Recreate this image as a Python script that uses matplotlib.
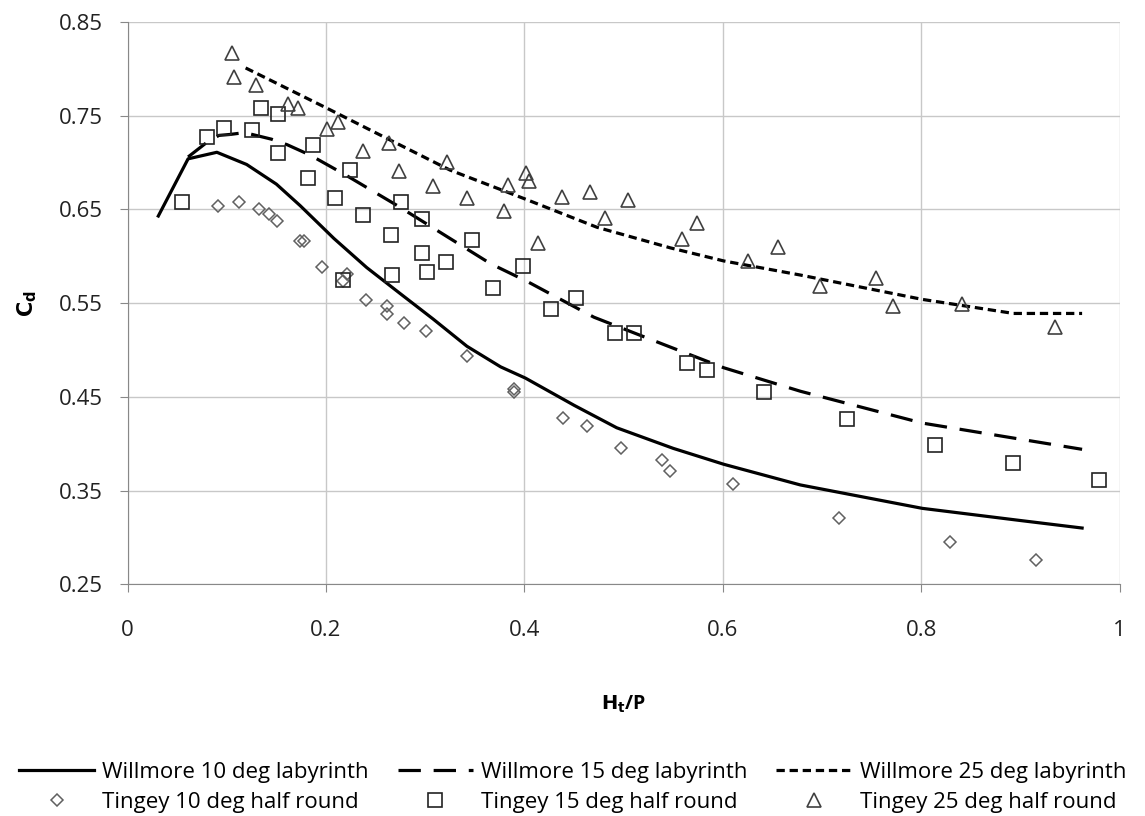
import matplotlib
from matplotlib import pyplot as plt

matplotlib.use("Agg")

plt.rcParams["font.family"] = ["Open Sans", "DejaVu Sans"]

# Willmore labyrinth curves
w10_x = [0.031, 0.061, 0.090, 0.120, 0.150, 0.174, 0.208, 0.241, 0.275, 0.308,
         0.342, 0.376, 0.401, 0.450, 0.493, 0.550, 0.601, 0.678, 0.801, 0.900,
         0.962]
w10_y = [0.643, 0.704, 0.711, 0.698, 0.677, 0.654, 0.619, 0.588, 0.560, 0.533,
         0.504, 0.482, 0.470, 0.441, 0.417, 0.395, 0.378, 0.356, 0.331, 0.318,
         0.310]

w15_x = [0.061, 0.078, 0.092, 0.103, 0.118, 0.145, 0.161, 0.184, 0.221, 0.272,
         0.325, 0.366, 0.403, 0.470, 0.540, 0.601, 0.678, 0.801, 0.962]
w15_y = [0.706, 0.720, 0.729, 0.730, 0.732, 0.725, 0.719, 0.708, 0.686, 0.654,
         0.619, 0.592, 0.573, 0.535, 0.506, 0.481, 0.456, 0.422, 0.394]

w25_x = [0.119, 0.201, 0.261, 0.325, 0.401, 0.473, 0.547, 0.601, 0.678, 0.801,
         0.893, 0.962]
w25_y = [0.801, 0.758, 0.726, 0.692, 0.661, 0.631, 0.609, 0.595, 0.580, 0.554,
         0.539, 0.539]

# Tingey half round measurements
t10_x = [0.091, 0.112, 0.132, 0.143, 0.151, 0.174, 0.178, 0.196, 0.221, 0.217,
         0.240, 0.261, 0.261, 0.279, 0.301, 0.342, 0.389, 0.389, 0.439, 0.463,
         0.497, 0.539, 0.547, 0.610, 0.717, 0.829, 0.916]
t10_y = [0.654, 0.658, 0.651, 0.645, 0.638, 0.616, 0.616, 0.589, 0.581, 0.574,
         0.553, 0.547, 0.538, 0.529, 0.520, 0.494, 0.458, 0.455, 0.427, 0.419,
         0.395, 0.383, 0.371, 0.357, 0.321, 0.295, 0.276]

t15_x = [0.055, 0.080, 0.097, 0.125, 0.134, 0.152, 0.152, 0.187, 0.182, 0.224,
         0.209, 0.276, 0.237, 0.297, 0.266, 0.297, 0.321, 0.302, 0.267, 0.217,
         0.347, 0.368, 0.399, 0.427, 0.452, 0.491, 0.510, 0.564, 0.584, 0.641,
         0.725, 0.814, 0.892, 0.979]
t15_y = [0.658, 0.727, 0.737, 0.735, 0.758, 0.752, 0.710, 0.719, 0.684, 0.692,
         0.662, 0.658, 0.644, 0.640, 0.623, 0.604, 0.594, 0.583, 0.580, 0.575,
         0.617, 0.566, 0.590, 0.544, 0.555, 0.518, 0.518, 0.486, 0.479, 0.455,
         0.426, 0.399, 0.379, 0.361]

t25_x = [0.105, 0.107, 0.129, 0.162, 0.172, 0.201, 0.212, 0.237, 0.263, 0.274,
         0.308, 0.322, 0.342, 0.379, 0.383, 0.402, 0.405, 0.414, 0.438, 0.466,
         0.481, 0.504, 0.559, 0.574, 0.625, 0.656, 0.698, 0.754, 0.771, 0.841,
         0.935]
t25_y = [0.817, 0.791, 0.783, 0.762, 0.758, 0.736, 0.743, 0.712, 0.721, 0.691,
         0.675, 0.701, 0.662, 0.648, 0.676, 0.689, 0.680, 0.614, 0.663, 0.669,
         0.641, 0.660, 0.618, 0.636, 0.595, 0.610, 0.568, 0.577, 0.547, 0.549,
         0.525]

fig = plt.figure(figsize=(11.45, 8.16), dpi=100)
ax = fig.add_axes([0.1114, 0.284, 0.8666, 0.689])

lw = 2.3
l10, = ax.plot(w10_x, w10_y, color="black", lw=lw,
               label="Willmore 10 deg labyrinth")
l15, = ax.plot(w15_x, w15_y, color="black", lw=lw, dashes=(7, 4),
               label="Willmore 15 deg labyrinth")
l25, = ax.plot(w25_x, w25_y, color="black", lw=lw, dashes=(2.6, 1.5),
               label="Willmore 25 deg labyrinth")

s10, = ax.plot(t10_x, t10_y, ls="none", marker="D", ms=6.5, mfc="none",
               mec="#606060", mew=1.1, label="Tingey 10 deg half round")
s15, = ax.plot(t15_x, t15_y, ls="none", marker="s", ms=9.5, mfc="none",
               mec="#222222", mew=1.2, label="Tingey 15 deg half round")
s25, = ax.plot(t25_x, t25_y, ls="none", marker="^", ms=9.5, mfc="none",
               mec="#404040", mew=1.2, label="Tingey 25 deg half round")

ax.set_xlim(0, 1)
ax.set_ylim(0.25, 0.85)
ax.set_xticks([0, 0.2, 0.4, 0.6, 0.8, 1.0])
ax.set_xticklabels(["0", "0.2", "0.4", "0.6", "0.8", "1"])
ax.set_yticks([0.25, 0.35, 0.45, 0.55, 0.65, 0.75, 0.85])
ax.set_yticklabels(["0.25", "0.35", "0.45", "0.55", "0.65", "0.75", "0.85"])
ax.grid(True, color="#c8c8c8", lw=1.0)
ax.set_axisbelow(True)
for side in ["top", "right"]:
    ax.spines[side].set_visible(False)
for side in ["left", "bottom"]:
    ax.spines[side].set_color("#888888")
ax.tick_params(axis="both", colors="#888888", length=6, labelsize=16,
               labelcolor="#222222")
ax.tick_params(axis="y", pad=12)
ax.tick_params(axis="x", pad=20)

ax.set_xlabel(r"$\mathbf{H_t}$/P", fontsize=14, fontweight="bold", labelpad=38)
ax.set_ylabel(r"$\mathbf{C_d}$", fontsize=15, fontweight="bold", labelpad=14)

fig.legend(handles=[l10, s10, l15, s15, l25, s25], loc="lower center",
           bbox_to_anchor=(0.5, -0.021), ncol=3, frameon=False, fontsize=16,
           handlelength=3.4, columnspacing=1.3, handletextpad=0.35,
           labelspacing=0.4)

fig.savefig("out.png", dpi=100)
